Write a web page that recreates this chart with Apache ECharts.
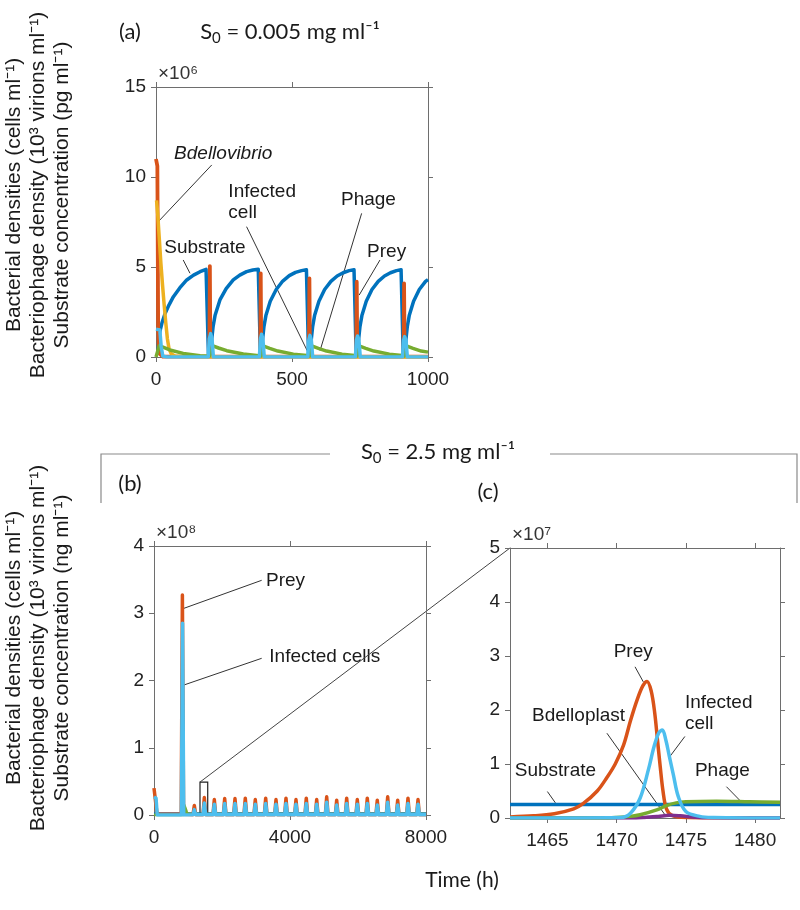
<!DOCTYPE html>
<html>
<head>
<meta charset="utf-8">
<script src="https://cdn.jsdelivr.net/npm/echarts@6/dist/echarts.min.js"></script>
<style>html,body{margin:0;background:#fff}#chart{width:800px;height:910px}</style>
</head>
<body>
<div id="chart"></div>
<script>
// ---- panel (a): S0 = 0.005 mg/ml, values x1e6 ----
const aSubstrate = [[8,0.3],[14,1.4],[22,1.9],[33,2.4],[48,2.9],[64,3.35],[88,3.85],[113,4.28],[138,4.55],[162,4.74],[184,4.87],[190,4.8],[193,0.05],
  [203,0.05],[205,1.0],[210,1.7],[217,2.3],[235,3.17],[258,3.8],[284,4.28],[308,4.55],[333,4.74],[356,4.83],[376,4.87],[381,4.8],[384,0.05],
  [390,0.05],[392,1.0],[397,1.7],[404,2.3],[420,3.1],[442,3.75],[466,4.22],[490,4.52],[513,4.7],[535,4.8],[553,4.85],[558,4.75],[561,0.05],
  [569,0.05],[571,1.0],[576,1.7],[583,2.3],[599,3.1],[620,3.75],[643,4.2],[666,4.5],[688,4.68],[710,4.8],[728,4.85],[733,4.75],[736,0.05],
  [743,0.05],[745,1.0],[750,1.7],[757,2.3],[773,3.1],[794,3.75],[817,4.2],[840,4.5],[862,4.68],[884,4.8],[901,4.85],[906,4.75],[909,0.05],
  [917,0.05],[919,1.0],[924,1.7],[931,2.3],[947,3.1],[968,3.75],[991,4.2],[1000,4.3]];
const aPrey = [[0,11.0],[5,10.6],[8,1.5],[12,0.2],[25,0.02],
  [196,0.02],[198,5.05],[200,0.02],[383,0.02],[385,4.65],[387,0.02],[562,0.02],[564,4.37],[566,0.02],
  [736,0.02],[738,4.18],[740,0.02],[910,0.02],[912,4.09],[914,0.02],[1000,0.02]];
const aBdellovibrio = [[2,8.7],[6,8.0],[12,6.6],[18,5.2],[24,4.0],[30,2.9],[36,1.9],[42,1.0],[48,0.45],[56,0.18],[70,0.06],[100,0.02],[1000,0]];
const aPhage = [[0,0],[12,0.62],[21,0.57],[51,0.39],[100,0.2],[162,0.07],[196,0.04],[203,0.3],[209,0.62],[230,0.5],[260,0.35],[321,0.17],[370,0.09],
  [386,0.06],[390,0.3],[396,0.6],[418,0.48],[448,0.33],[505,0.16],[555,0.08],[565,0.06],[569,0.3],[575,0.6],[597,0.48],[627,0.33],[684,0.16],[730,0.08],
  [739,0.06],[743,0.3],[749,0.6],[771,0.48],[801,0.33],[858,0.16],[904,0.08],[913,0.06],[917,0.3],[923,0.6],[945,0.48],[975,0.33],[1000,0.27]];
const aInfected = [[0,1.55],[14,1.5],[19,0.6],[25,0.05],[40,0],[192,0],[196,1.0],[201,1.3],[206,1.0],[211,0],
  [380,0],[384,1.0],[388,1.26],[393,1.0],[398,0],[558,0],[562,0.95],[566,1.2],[571,0.95],[576,0],
  [733,0],[737,0.95],[741,1.17],[746,0.95],[751,0],[906,0],[910,0.92],[914,1.13],[919,0.92],[924,0],[1000,0]];

// ---- panel (b): S0 = 2.5 mg/ml, values x1e8 ----
const bSpikeT = [1186,1480,1774,2079,2382,2685,2979,3285,3588,3882,4176,4479,4785,5079,5373,5667,5979,6273,6567,6873,7167,7470,7765];
const bPreyPeak = [0.14,0.26,0.23,0.245,0.245,0.25,0.23,0.25,0.23,0.25,0.23,0.25,0.23,0.27,0.22,0.25,0.23,0.25,0.22,0.27,0.22,0.25,0.23];
const bInfPeak = [0.08,0.18,0.16,0.17,0.17,0.17,0.16,0.17,0.16,0.17,0.16,0.17,0.16,0.19,0.15,0.17,0.16,0.17,0.15,0.19,0.15,0.17,0.16];
const bPreyStart = [[0,0.40],[50,0.38],[90,0.01],[800,0.01],[835,3.27],[870,0.01]];
const bInfStart = [[0,0.27],[60,0.25],[95,0],[805,0],[840,2.85],[875,0]];
const bSubstrate = [[0,0.025],[8000,0.025]];
const bPhage = [[0,0],[850,0],[880,0.15],[920,0.1],[960,0.04],[1000,0.01],[8000,0.01]];

// ---- panel (c): zoom 1462-1482 h, values x1e7 ----
const cSubstrate = [[1462.3,0.25],[1481.8,0.25]];
const cPrey = [[1462.3,0.02],[1464,0.04],[1465.5,0.08],[1466.9,0.17],[1467.6,0.27],[1468.6,0.5],[1469.3,0.75],[1469.9,1.0],[1470.5,1.35],[1471.0,1.8],
  [1471.5,2.2],[1471.9,2.45],[1472.2,2.53],[1472.5,2.35],[1472.75,1.95],[1472.95,1.45],[1473.15,0.95],[1473.35,0.5],[1473.6,0.17],[1474.0,0.05],[1475,0.01],[1481.8,0]];
const cBdelloplast = [[1462.3,0],[1471,0],[1472,0.01],[1473,0.03],[1473.8,0.05],[1474.6,0.04],[1475.5,0.02],[1476.5,0.005],[1481.8,0]];
const cPhage = [[1462.3,0],[1469,0],[1470.0,0.01],[1471.0,0.03],[1471.7,0.06],[1472.9,0.15],[1473.6,0.23],[1474.3,0.28],[1475.0,0.3],[1477.2,0.31],[1479.6,0.3],[1481.8,0.29]];
const cInfected = [[1462.3,0],[1470.3,0.01],[1471.0,0.09],[1471.7,0.37],[1472.3,0.9],[1472.7,1.32],[1473.05,1.58],[1473.3,1.63],[1473.55,1.45],[1473.8,1.15],
  [1474.1,0.8],[1474.45,0.4],[1475.0,0.12],[1476.0,0.03],[1477,0.01],[1481.8,0]];
const cTicks = [1465, 1470, 1475, 1480];

// colours (matlab default order)
const C = {sub:'#0072BD', prey:'#D95319', bdv:'#EDB120', bdp:'#7E2F8E', phage:'#77AC30', inf:'#4DBEEE'};
const axisColor = '#6e6e6e';
const tickFont = '"Liberation Sans", Arial, sans-serif';
const titleFont = 'Lato, "Open Sans", sans-serif';

// spike trains for panel (b)
function spikes(start, times, peaks) {
  const out = start.slice();
  times.forEach((t, i) => { out.push([t - 40, 0.005], [t, peaks[i]], [t + 40, 0.005]); });
  out.push([8000, 0.005]);
  return out;
}
const bPrey = spikes(bPreyStart, bSpikeT, bPreyPeak);
const bInfected = spikes(bInfStart, bSpikeT, bInfPeak);

function mkX(gi, pos, min, max, interval, ticks) {
  const ax = {
    type: 'value', gridIndex: gi, position: pos, min: min, max: max,
    axisLine: {show: true, onZero: false, lineStyle: {color: axisColor, width: 1}},
    axisTick: {show: true, inside: false, length: 5, lineStyle: {color: axisColor}},
    axisLabel: {show: pos === 'bottom', color: '#222', fontSize: 19, fontFamily: tickFont, margin: 13,
      formatter: v => String(v)},
    splitLine: {show: false}
  };
  if (interval) ax.interval = interval;
  if (ticks) { ax.axisTick.customValues = ticks; ax.axisLabel.customValues = ticks; }
  return ax;
}
function mkY(gi, pos, max, interval) {
  return {
    type: 'value', gridIndex: gi, position: pos, min: 0, max: max, interval: interval,
    axisLine: {show: true, onZero: false, lineStyle: {color: axisColor, width: 1}},
    axisTick: {show: true, inside: false, length: 5, lineStyle: {color: axisColor}},
    axisLabel: {show: pos === 'left', color: '#222', fontSize: 19, fontFamily: tickFont, margin: 10},
    splitLine: {show: false}
  };
}
function line(gi, data, color, width, smooth) {
  return {
    type: 'line', xAxisIndex: gi * 2, yAxisIndex: gi * 2, data: data,
    showSymbol: false, symbol: 'none', smooth: smooth || false,
    lineStyle: {color: color, width: width, join: 'round'}, itemStyle: {color: color}, silent: true
  };
}

const chart = echarts.init(document.getElementById('chart'));
chart.setOption({
  animation: false,
  grid: [
    {left: 156, top: 87, width: 272, height: 270},
    {left: 154, top: 546, width: 272, height: 269},
    {left: 510, top: 548, width: 270, height: 270}
  ],
  xAxis: [
    mkX(0, 'bottom', 0, 1000, 500), mkX(0, 'top', 0, 1000, 500),
    mkX(1, 'bottom', 0, 8000, 4000), mkX(1, 'top', 0, 8000, 4000),
    mkX(2, 'bottom', 1462.3, 1481.8, null, cTicks), mkX(2, 'top', 1462.3, 1481.8, null, cTicks)
  ],
  yAxis: [
    mkY(0, 'left', 15, 5), mkY(0, 'right', 15, 5),
    mkY(1, 'left', 4, 1), mkY(1, 'right', 4, 1),
    mkY(2, 'left', 5, 1), mkY(2, 'right', 5, 1)
  ],
  series: [
    line(0, aSubstrate, C.sub, 3.5),
    line(0, aPrey, C.prey, 3.8),
    line(0, aBdellovibrio, C.bdv, 3.5),
    line(0, aPhage, C.phage, 3.5),
    line(0, aInfected, C.inf, 3.5),
    line(1, bSubstrate, C.sub, 2),
    line(1, bPrey, C.prey, 3.5),
    line(1, bPhage, C.phage, 3),
    line(1, bInfected, C.inf, 3.5),
    line(2, cSubstrate, C.sub, 3.5),
    line(2, cPrey, C.prey, 3.5, 0.35),
    line(2, cBdelloplast, C.bdp, 3.5, 0.35),
    line(2, cPhage, C.phage, 3.5, 0.35),
    line(2, cInfected, C.inf, 3.5, 0.35)
  ]
});

// ---- annotations (data coordinates) ----
const notes = [
  {g: 0, text: 'Bdellovibrio', italic: true, at: [247, 11.3], align: 'center', from: [205, 10.67], to: [8.6, 7.52]},
  {g: 0, text: 'Infected\ncell', at: [266, 8.6], align: 'left', from: [333, 7.24], to: [556, 0.35]},
  {g: 0, text: 'Phage', at: [781, 8.72], align: 'center', from: [756, 7.98], to: [603, 0.35]},
  {g: 0, text: 'Prey', at: [848, 5.85], align: 'center', from: [823.5, 5.39], to: [747, 3.44]},
  {g: 0, text: 'Substrate', at: [180, 6.09], align: 'center', from: [100, 5.39], to: [125, 4.65]},
  {g: 1, text: 'Prey', at: [3294, 3.49], align: 'left', from: [3167, 3.49], to: [862, 3.07]},
  {g: 1, text: 'Infected cells', at: [3391, 2.35], align: 'left', from: [3167, 2.33], to: [862, 1.93]},
  {g: 2, text: 'Prey', at: [1471.2, 3.08], align: 'center', from: [1471.33, 2.80], to: [1471.93, 2.52]},
  {g: 2, text: 'Bdelloplast', at: [1467.25, 1.89], align: 'center', from: [1469.3, 1.57], to: [1473.6, 0.02]},
  {g: 2, text: 'Infected\ncell', at: [1474.93, 1.94], align: 'left', from: [1474.93, 1.51], to: [1473.85, 1.14]},
  {g: 2, text: 'Substrate', at: [1465.58, 0.87], align: 'center', from: [1465.0, 0.49], to: [1465.58, 0.28]},
  {g: 2, text: 'Phage', at: [1477.64, 0.87], align: 'center', from: [1477.93, 0.58], to: [1479.0, 0.30]}
];
const zoomBox = {x0: 1353, x1: 1580, y0: 0, y1: 0.49};

const P = (g, pt) => chart.convertToPixel({gridIndex: g}, pt);
const gfx = [];
function txt(x, y, text, font, opts) {
  gfx.push(Object.assign({
    type: 'text', x: x, y: y, silent: true,
    style: {text: text, font: font, fill: '#1a1a1a', textAlign: 'center', textVerticalAlign: 'middle'}
  }, opts || {}));
}
function seg(p, q, stroke, w) {
  gfx.push({type: 'line', silent: true, shape: {x1: p[0], y1: p[1], x2: q[0], y2: q[1]}, style: {stroke: stroke || '#333', lineWidth: w || 1}});
}

notes.forEach(n => {
  const p = P(n.g, n.at);
  gfx.push({
    type: 'text', x: p[0], y: p[1], silent: true,
    style: {text: n.text, font: (n.italic ? 'italic ' : '') + '19px ' + tickFont, fill: '#1a1a1a',
      textAlign: n.align, textVerticalAlign: 'middle', lineHeight: 21}
  });
  seg(P(n.g, n.from), P(n.g, n.to), '#333', 1);
});

// zoom box in (b) and connector to (c)
const b0 = P(1, [zoomBox.x0, zoomBox.y1]), b1 = P(1, [zoomBox.x1, zoomBox.y0]);
gfx.push({type: 'rect', silent: true, shape: {x: b0[0], y: b0[1], width: b1[0] - b0[0], height: b1[1] - b0[1]},
  style: {fill: 'none', stroke: '#222', lineWidth: 1.2}});
seg(b0, P(2, [1462.3, 5]), '#444', 1);

// exponent labels
[[0, [0, 15], '×10⁶'], [1, [0, 4], '×10⁸'], [2, [1462.3, 5], '×10⁷']].forEach(e => {
  const p = P(e[0], e[1]);
  txt(p[0] + 2, p[1] - 13, e[2], '19px ' + tickFont, {style: {text: e[2], font: '19px ' + tickFont, fill: '#333', textAlign: 'left', textVerticalAlign: 'middle'}});
});

// panel titles; S with a lowered subscript 0
const subRich = {
  m: {font: '22px ' + titleFont, fill: '#1a1a1a', lineHeight: 28},
  s: {font: '15px ' + titleFont, fill: '#1a1a1a', lineHeight: 28, padding: [12, 0, 0, 0]}
};
function s0Title(x, y, rest) {
  gfx.push({type: 'text', x: x, y: y, silent: true,
    style: {text: '{m|S}{s|0}{m|' + rest + '}', rich: subRich, textAlign: 'center', textVerticalAlign: 'middle'}});
}
txt(130, 32, '(a)', '22px ' + titleFont);
s0Title(290, 32, ' = 0.005 mg ml⁻¹');
txt(130, 484, '(b)', '22px ' + titleFont);
txt(488, 492, '(c)', '22px ' + titleFont);
s0Title(438, 452, ' = 2.5 mg ml⁻¹');
txt(462, 880, 'Time (h)', '21px ' + titleFont);

// bracket over (b)/(c)
gfx.push({type: 'polyline', silent: true, shape: {points: [[101, 503], [101, 454], [330, 454]]}, style: {fill: 'none', stroke: '#8a8a8a', lineWidth: 1.2}});
gfx.push({type: 'polyline', silent: true, shape: {points: [[550, 454], [797, 454], [797, 503]]}, style: {fill: 'none', stroke: '#8a8a8a', lineWidth: 1.2}});

// y axis titles (three lines each)
const yTitleA = ['Bacterial densities (cells ml⁻¹)', 'Bacteriophage density (10³ virions ml⁻¹)', 'Substrate concentration (pg ml⁻¹)'];
const yTitleB = ['Bacterial densities (cells ml⁻¹)', 'Bacteriophage density (10³ virions ml⁻¹)', 'Substrate concentration (ng ml⁻¹)'];
[14, 38, 62].forEach((x, i) => {
  txt(x, 195, yTitleA[i], '21px ' + tickFont, {rotation: Math.PI / 2});
  txt(x, 648, yTitleB[i], '21px ' + tickFont, {rotation: Math.PI / 2});
});

chart.setOption({graphic: gfx});
</script>
</body>
</html>
